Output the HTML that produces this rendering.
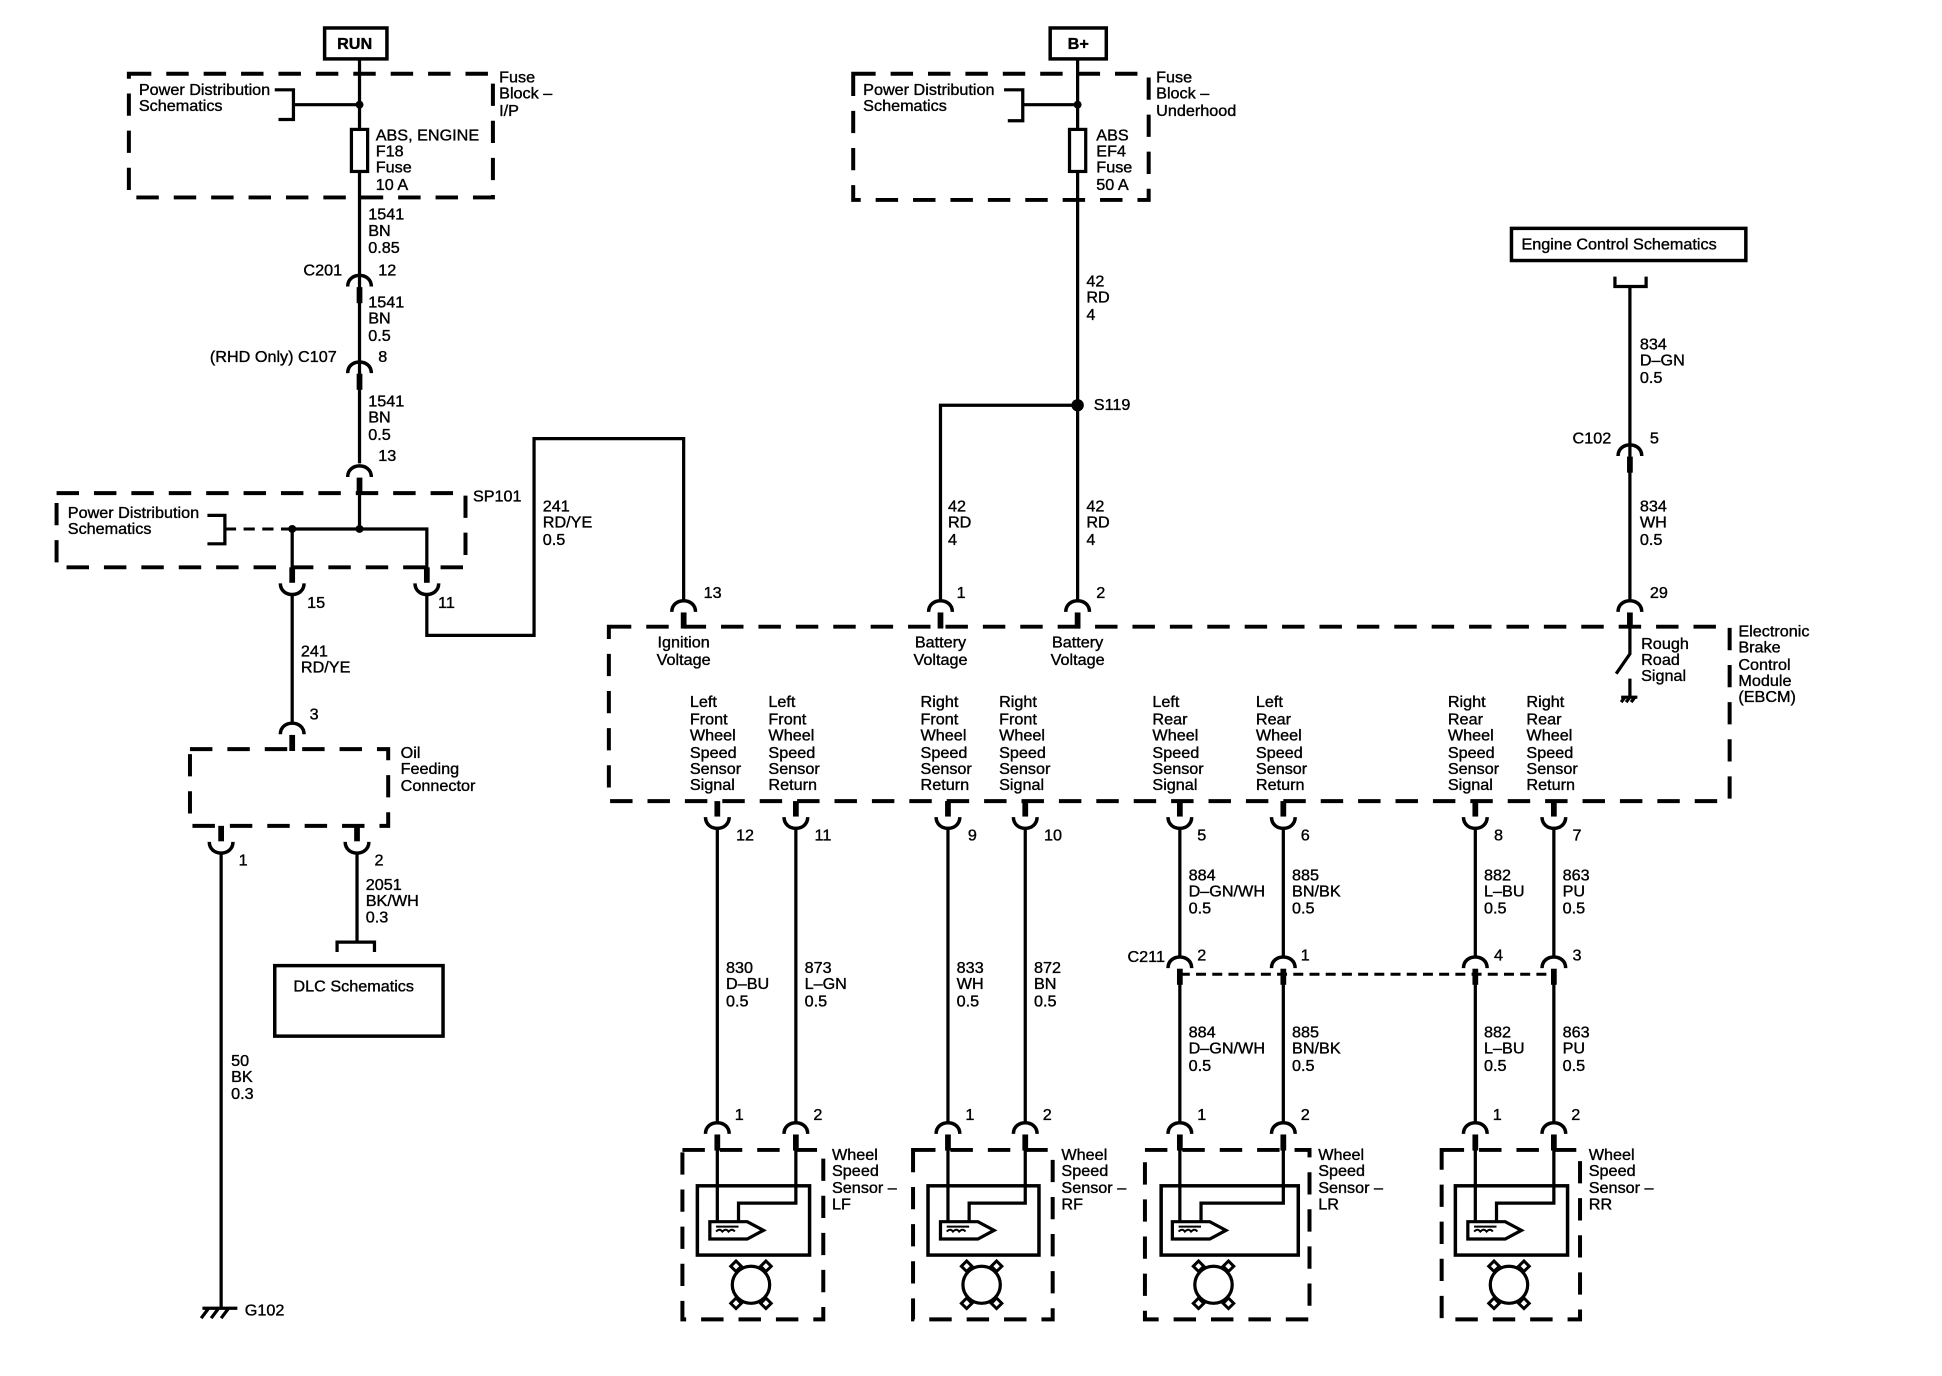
<!DOCTYPE html>
<html><head><meta charset="utf-8"><style>
html,body{margin:0;padding:0;background:#fff;}
svg{display:block;}
text{font-family:"Liberation Sans",Arial,sans-serif;font-size:13px;fill:#000;stroke:#000;stroke-width:0.3;}
.w{stroke:#000;stroke-width:2.6;fill:none;}
.d{stroke:#000;stroke-width:3.2;fill:none;stroke-dasharray:18 12;}
.b{stroke:#000;stroke-width:2.8;fill:none;}
</style></head><body>
<svg width="1942" height="1376" viewBox="0 0 1942 1376" xmlns="http://www.w3.org/2000/svg">
<defs>
<g id="cd"><path d="M-9.5,9 C-9.5,-3 9.5,-3 9.5,9" stroke="#000" stroke-width="2.8" fill="none"/><rect x="-2.3" y="9.5" width="4.6" height="13" fill="#000"/></g>
<g id="cu"><path d="M-9.5,-9 C-9.5,3 9.5,3 9.5,-9" stroke="#000" stroke-width="2.8" fill="none"/><rect x="-2.3" y="-22" width="4.6" height="12.5" fill="#000"/></g>
<g id="sens">
<path d="M-6,986 H24 L37,993 L24,1000 H-6 Z" stroke="#000" stroke-width="2.6" fill="#fff"/>
<path d="M-1,990 H17 M-1,994 q3,-3 5,0 q3,-3 5,0 q3,-3 5,0" stroke="#000" stroke-width="1.6" fill="none"/>
<circle cx="27" cy="1037" r="15" stroke="#000" stroke-width="2.6" fill="none"/>
<g stroke="#000" stroke-width="2.4" fill="#fff">
<rect x="12" y="1019" width="6" height="6" transform="rotate(45 15 1022)"/>
<rect x="36" y="1019" width="6" height="6" transform="rotate(45 39 1022)"/>
<rect x="12" y="1049" width="6" height="6" transform="rotate(45 15 1052)"/>
<rect x="36" y="1049" width="6" height="6" transform="rotate(45 39 1052)"/>
</g>
</g>
</defs>
<g transform="translate(-12,2) scale(1.2467,1.237)">

<rect x="270" y="21" width="50" height="25" class="b" stroke-width="3.2"/>
<text x="280" y="38" font-weight="bold">RUN</text>
<rect x="113" y="58" width="292" height="100" class="d"/>
<text x="121" y="75">Power Distribution</text><text x="121" y="88">Schematics</text>
<path d="M230,71 H245 V95 H233 M245,83 H298" class="w"/>
<circle cx="298" cy="83" r="3.2"/>
<path d="M298,46 V373" class="w"/>
<rect x="291.5" y="103" width="13" height="34" fill="#fff" stroke="#000" stroke-width="2.6"/>
<text x="311" y="112">ABS, ENGINE</text><text x="311" y="125">F18</text><text x="311" y="138">Fuse</text><text x="311" y="152">10 A</text>
<text x="410" y="65">Fuse</text><text x="410" y="78">Block –</text><text x="410" y="92">I/P</text>
<text x="305" y="176">1541</text><text x="305" y="189">BN</text><text x="305" y="203">0.85</text>
<text x="253" y="221">C201</text><text x="313" y="221">12</text>
<use href="#cd" x="298" y="221"/>
<text x="305" y="247">1541</text><text x="305" y="260">BN</text><text x="305" y="274">0.5</text>
<text x="178" y="291">(RHD Only) C107</text><text x="313" y="291">8</text>
<use href="#cd" x="298" y="291"/>
<text x="305" y="327">1541</text><text x="305" y="340">BN</text><text x="305" y="354">0.5</text>
<text x="313" y="371">13</text>
<use href="#cd" x="298" y="375"/>

<rect x="55" y="397" width="328" height="60" class="d"/>
<text x="389" y="404">SP101</text>
<text x="64" y="417">Power Distribution</text><text x="64" y="430">Schematics</text>
<path d="M176,415 H190 V438 H176" class="w"/>
<path d="M190,426 H244" stroke="#000" stroke-width="2.4" stroke-dasharray="9 6"/>
<path d="M244,426 H352 V460 M298,396 V426 M244,426 V460" class="w"/>
<circle cx="244" cy="426" r="3.2"/><circle cx="298" cy="426" r="3.2"/>
<use href="#cu" x="244" y="479"/><use href="#cu" x="352" y="479"/>
<text x="256" y="490">15</text><text x="361" y="490">11</text>
<path d="M352,479 V512 H438 V353 H558 V484" class="w"/>
<text x="445" y="412">241</text><text x="445" y="425">RD/YE</text><text x="445" y="439">0.5</text>
<path d="M244,479 V583" class="w"/>
<text x="251" y="529">241</text><text x="251" y="542">RD/YE</text>
<text x="258" y="580">3</text>
<use href="#cd" x="244" y="583"/>

<rect x="162" y="604" width="159" height="62" class="d"/>
<text x="331" y="611">Oil</text><text x="331" y="624">Feeding</text><text x="331" y="638">Connector</text>
<use href="#cu" x="187" y="688"/><use href="#cu" x="296" y="688"/>
<text x="201" y="698">1</text><text x="310" y="698">2</text>
<path d="M187,688 V1056 M296,688 V760" class="w"/>
<text x="303" y="718">2051</text><text x="303" y="731">BK/WH</text><text x="303" y="744">0.3</text>
<path d="M280,768 V760 H310 V768" class="w"/>
<rect x="230" y="779" width="135" height="57" class="b"/>
<text x="245" y="800">DLC Schematics</text>
<text x="195" y="860">50</text><text x="195" y="873">BK</text><text x="195" y="887">0.3</text>
<path d="M172,1056 H200 M177,1056 L171,1064 M185,1056 L179,1064 M193,1056 L187,1064" class="w"/>
<text x="206" y="1062">G102</text>

<rect x="852" y="21" width="45" height="25" class="b" stroke-width="3.2"/>
<text x="866" y="38" font-weight="bold">B+</text>
<rect x="694" y="58" width="237" height="102" class="d"/>
<text x="702" y="75">Power Distribution</text><text x="702" y="88">Schematics</text>
<path d="M815,71 H830 V96 H818 M830,83 H874" class="w"/>
<circle cx="874" cy="83" r="3.2"/>
<path d="M874,46 V484" class="w"/>
<rect x="867.5" y="103" width="13" height="34" fill="#fff" stroke="#000" stroke-width="2.6"/>
<text x="889" y="112">ABS</text><text x="889" y="125">EF4</text><text x="889" y="138">Fuse</text><text x="889" y="152">50 A</text>
<text x="937" y="65">Fuse</text><text x="937" y="78">Block –</text><text x="937" y="92">Underhood</text>
<text x="881" y="230">42</text><text x="881" y="243">RD</text><text x="881" y="257">4</text>
<circle cx="874" cy="326" r="5"/>
<text x="887" y="330">S119</text>
<path d="M874,326 H764 V484" class="w"/>
<text x="770" y="412">42</text><text x="770" y="425">RD</text><text x="770" y="439">4</text>
<text x="881" y="412">42</text><text x="881" y="425">RD</text><text x="881" y="439">4</text>
<use href="#cd" x="558" y="484"/><use href="#cd" x="764" y="484"/><use href="#cd" x="874" y="484"/>
<text x="574" y="482">13</text><text x="777" y="482">1</text><text x="889" y="482">2</text>

<rect x="1222" y="183" width="188" height="26" class="b" stroke-width="3"/>
<text x="1230" y="200">Engine Control Schematics</text>
<path d="M1305,222 V230 H1330 V222 M1317,230 V484" class="w"/>
<text x="1325" y="281">834</text><text x="1325" y="294">D–GN</text><text x="1325" y="308">0.5</text>
<text x="1271" y="357">C102</text><text x="1333" y="357">5</text>
<use href="#cd" x="1317" y="358"/>
<text x="1325" y="412">834</text><text x="1325" y="425">WH</text><text x="1325" y="439">0.5</text>
<text x="1333" y="482">29</text>
<use href="#cd" x="1317" y="484"/>

<rect x="498" y="505" width="899" height="141" class="d"/>
<text x="1404" y="513">Electronic</text><text x="1404" y="526">Brake</text><text x="1404" y="540">Control</text><text x="1404" y="553">Module</text><text x="1404" y="566">(EBCM)</text>
<text x="558" y="522" text-anchor="middle">Ignition</text><text x="558" y="536" text-anchor="middle">Voltage</text>
<text x="764" y="522" text-anchor="middle">Battery</text><text x="764" y="536" text-anchor="middle">Voltage</text>
<text x="874" y="522" text-anchor="middle">Battery</text><text x="874" y="536" text-anchor="middle">Voltage</text>
<path d="M1317,505 V527 L1306,543 M1317,547 V562 M1310,562 H1323 M1313,562 l-3,4 M1317,562 l-3,4 M1321,562 l-3,4" class="w"/>
<text x="1326" y="523">Rough</text><text x="1326" y="536">Road</text><text x="1326" y="549">Signal</text>

<g>
<text x="563" y="570">Left</text><text x="563" y="584">Front</text><text x="563" y="597">Wheel</text><text x="563" y="611">Speed</text><text x="563" y="624">Sensor</text><text x="563" y="637">Signal</text>
<text x="626" y="570">Left</text><text x="626" y="584">Front</text><text x="626" y="597">Wheel</text><text x="626" y="611">Speed</text><text x="626" y="624">Sensor</text><text x="626" y="637">Return</text>
<text x="748" y="570">Right</text><text x="748" y="584">Front</text><text x="748" y="597">Wheel</text><text x="748" y="611">Speed</text><text x="748" y="624">Sensor</text><text x="748" y="637">Return</text>
<text x="811" y="570">Right</text><text x="811" y="584">Front</text><text x="811" y="597">Wheel</text><text x="811" y="611">Speed</text><text x="811" y="624">Sensor</text><text x="811" y="637">Signal</text>
<text x="934" y="570">Left</text><text x="934" y="584">Rear</text><text x="934" y="597">Wheel</text><text x="934" y="611">Speed</text><text x="934" y="624">Sensor</text><text x="934" y="637">Signal</text>
<text x="1017" y="570">Left</text><text x="1017" y="584">Rear</text><text x="1017" y="597">Wheel</text><text x="1017" y="611">Speed</text><text x="1017" y="624">Sensor</text><text x="1017" y="637">Return</text>
<text x="1171" y="570">Right</text><text x="1171" y="584">Rear</text><text x="1171" y="597">Wheel</text><text x="1171" y="611">Speed</text><text x="1171" y="624">Sensor</text><text x="1171" y="637">Signal</text>
<text x="1234" y="570">Right</text><text x="1234" y="584">Rear</text><text x="1234" y="597">Wheel</text><text x="1234" y="611">Speed</text><text x="1234" y="624">Sensor</text><text x="1234" y="637">Return</text>
</g>

<g>
<use href="#cu" x="585" y="668"/><use href="#cu" x="648" y="668"/><use href="#cu" x="770" y="668"/><use href="#cu" x="832" y="668"/>
<use href="#cu" x="956" y="668"/><use href="#cu" x="1039" y="668"/><use href="#cu" x="1193" y="668"/><use href="#cu" x="1256" y="668"/>
<text x="600" y="678">12</text><text x="663" y="678">11</text><text x="786" y="678">9</text><text x="847" y="678">10</text>
<text x="970" y="678">5</text><text x="1053" y="678">6</text><text x="1208" y="678">8</text><text x="1271" y="678">7</text>
<path d="M585,668 V906 M648,668 V906 M770,668 V906 M832,668 V906" class="w"/>
<path d="M956,668 V772 M1039,668 V772 M1193,668 V772 M1256,668 V772 M956,792 V906 M1039,792 V906 M1193,792 V906 M1256,792 V906" class="w" stroke-width="3.2"/>
<text x="592" y="785">830</text><text x="592" y="798">D–BU</text><text x="592" y="812">0.5</text>
<text x="655" y="785">873</text><text x="655" y="798">L–GN</text><text x="655" y="812">0.5</text>
<text x="777" y="785">833</text><text x="777" y="798">WH</text><text x="777" y="812">0.5</text>
<text x="839" y="785">872</text><text x="839" y="798">BN</text><text x="839" y="812">0.5</text>
<text x="963" y="710">884</text><text x="963" y="723">D–GN/WH</text><text x="963" y="737">0.5</text>
<text x="1046" y="710">885</text><text x="1046" y="723">BN/BK</text><text x="1046" y="737">0.5</text>
<text x="1200" y="710">882</text><text x="1200" y="723">L–BU</text><text x="1200" y="737">0.5</text>
<text x="1263" y="710">863</text><text x="1263" y="723">PU</text><text x="1263" y="737">0.5</text>
<text x="914" y="776">C211</text><text x="970" y="775">2</text><text x="1053" y="775">1</text><text x="1208" y="775">4</text><text x="1271" y="775">3</text>
<use href="#cd" x="956" y="772"/><use href="#cd" x="1039" y="772"/><use href="#cd" x="1193" y="772"/><use href="#cd" x="1256" y="772"/>
<path d="M956,786 H1256" stroke="#000" stroke-width="2.4" stroke-dasharray="8 5"/>
<text x="963" y="837">884</text><text x="963" y="850">D–GN/WH</text><text x="963" y="864">0.5</text>
<text x="1046" y="837">885</text><text x="1046" y="850">BN/BK</text><text x="1046" y="864">0.5</text>
<text x="1200" y="837">882</text><text x="1200" y="850">L–BU</text><text x="1200" y="864">0.5</text>
<text x="1263" y="837">863</text><text x="1263" y="850">PU</text><text x="1263" y="864">0.5</text>
</g>

<g>
<use href="#cd" x="585" y="906"/><use href="#cd" x="648" y="906"/>
<text x="599" y="904">1</text><text x="662" y="904">2</text>
<rect x="557" y="928" width="113" height="137" class="d"/>
<rect x="569" y="957" width="90" height="56" class="b"/>
<path d="M585,928 V986 M648,928 V971 H602 V986" class="w"/>
<use href="#sens" x="585"/>
<text x="677" y="936">Wheel</text><text x="677" y="949">Speed</text><text x="677" y="963">Sensor –</text><text x="677" y="976">LF</text>

<use href="#cd" x="770" y="906"/><use href="#cd" x="832" y="906"/>
<text x="784" y="904">1</text><text x="846" y="904">2</text>
<rect x="742" y="928" width="112" height="137" class="d"/>
<rect x="754" y="957" width="89" height="56" class="b"/>
<path d="M770,928 V986 M832,928 V971 H787 V986" class="w"/>
<use href="#sens" x="770"/>
<text x="861" y="936">Wheel</text><text x="861" y="949">Speed</text><text x="861" y="963">Sensor –</text><text x="861" y="976">RF</text>

<use href="#cd" x="956" y="906"/><use href="#cd" x="1039" y="906"/>
<text x="970" y="904">1</text><text x="1053" y="904">2</text>
<rect x="928" y="928" width="132" height="137" class="d"/>
<rect x="941" y="957" width="110" height="56" class="b"/>
<path d="M956,928 V986 M1039,928 V971 H973 V986" class="w" stroke-width="3"/>
<use href="#sens" x="956"/>
<text x="1067" y="936">Wheel</text><text x="1067" y="949">Speed</text><text x="1067" y="963">Sensor –</text><text x="1067" y="976">LR</text>

<use href="#cd" x="1193" y="906"/><use href="#cd" x="1256" y="906"/>
<text x="1207" y="904">1</text><text x="1270" y="904">2</text>
<rect x="1166" y="928" width="111" height="137" class="d"/>
<rect x="1177" y="957" width="90" height="56" class="b"/>
<path d="M1193,928 V986 M1256,928 V971 H1210 V986" class="w" stroke-width="3.2"/>
<use href="#sens" x="1193"/>
<text x="1284" y="936">Wheel</text><text x="1284" y="949">Speed</text><text x="1284" y="963">Sensor –</text><text x="1284" y="976">RR</text>
</g>
</g>
</svg>
</body></html>
